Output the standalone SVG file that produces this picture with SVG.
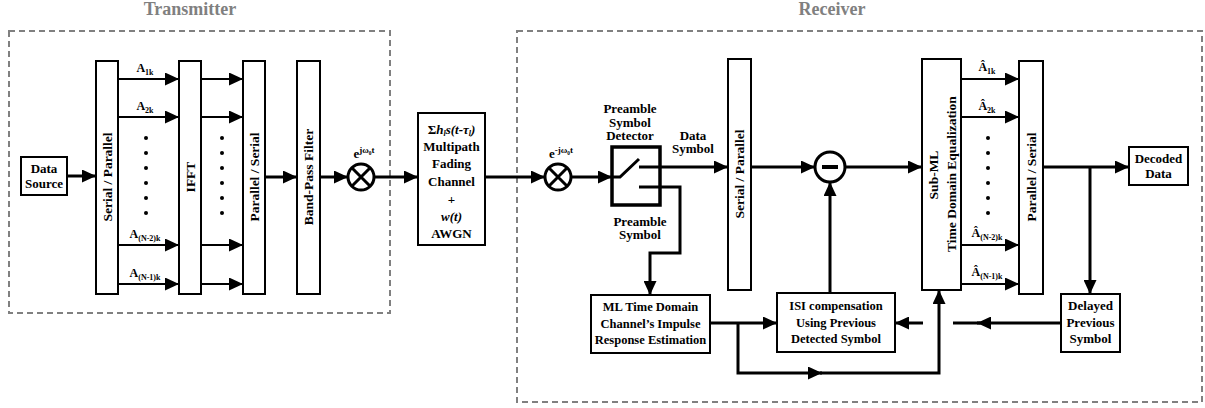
<svg xmlns="http://www.w3.org/2000/svg" width="1205" height="408" viewBox="0 0 1205 408">
<defs>
<style>
text{font-family:"Liberation Serif","Times New Roman",serif;font-weight:bold;fill:#000}
.t13{font-size:13px;text-anchor:middle}
.t12{font-size:12.5px;text-anchor:middle}
.rot{font-size:13.5px;text-anchor:middle;dominant-baseline:central}
.title{font-size:18px;fill:#808080;text-anchor:middle}
.lbl{font-size:12px;text-anchor:middle}
.sub{font-size:8px}
.sup{font-size:9px}
.box{fill:#fff;stroke:#000;stroke-width:2}
.dash{fill:none;stroke:#808080;stroke-width:2;stroke-dasharray:6 4}
.thick{fill:none;stroke:#000;stroke-width:3}
.thin{fill:none;stroke:#000;stroke-width:1.8}
.dot{fill:#000}
</style>
<marker id="ah" viewBox="0 0 14 13" refX="14" refY="6.5" markerWidth="14" markerHeight="13" markerUnits="userSpaceOnUse" orient="auto">
<path d="M0,0 L14,6.5 L0,13 z" fill="#000"/>
</marker>
</defs>
<rect width="1205" height="408" fill="#fff"/>

<!-- section frames -->
<g id="frames">
<rect class="dash" x="9" y="31" width="381" height="282"/>
<text class="title" x="190" y="15">Transmitter</text>
<rect class="dash" x="517" y="31" width="685" height="371"/>
<text class="title" x="832" y="15">Receiver</text>
</g>

<!-- connectors -->
<g id="connectors">
<path class="thick" d="M67,176 H96" marker-end="url(#ah)"/>
<path class="thin" d="M118,79 H179" marker-end="url(#ah)"/>
<path class="thin" d="M118,117 H179" marker-end="url(#ah)"/>
<path class="thin" d="M118,245 H179" marker-end="url(#ah)"/>
<path class="thin" d="M118,284 H179" marker-end="url(#ah)"/>
<path class="thin" d="M201,79 H243" marker-end="url(#ah)"/>
<path class="thin" d="M201,117 H243" marker-end="url(#ah)"/>
<path class="thin" d="M201,245 H243" marker-end="url(#ah)"/>
<path class="thin" d="M201,284 H243" marker-end="url(#ah)"/>
<path class="thick" d="M265,177 H297" marker-end="url(#ah)"/>
<path class="thick" d="M320,177 H348" marker-end="url(#ah)"/>
<path class="thick" d="M374,177 H418" marker-end="url(#ah)"/>
<path class="thick" d="M485,177 H545" marker-end="url(#ah)"/>
<path class="thick" d="M571,177 H612" marker-end="url(#ah)"/>
<path class="thick" d="M639,167 H728" marker-end="url(#ah)"/>
<path class="thick" d="M639,187 H680 V253 H650 V295" marker-end="url(#ah)"/>
<path class="thick" d="M751,167 H815" marker-end="url(#ah)"/>
<path class="thick" d="M830,293 V182" marker-end="url(#ah)"/>
<path class="thick" d="M845,167 H922" marker-end="url(#ah)"/>
<path class="thin" d="M961,79 H1019" marker-end="url(#ah)"/>
<path class="thin" d="M961,117 H1019" marker-end="url(#ah)"/>
<path class="thin" d="M961,245 H1019" marker-end="url(#ah)"/>
<path class="thin" d="M961,284 H1019" marker-end="url(#ah)"/>
<path class="thick" d="M1043,167 H1129" marker-end="url(#ah)"/>
<path class="thick" d="M1090,167 V294" marker-end="url(#ah)"/>
<path class="thick" d="M710,323 H777" marker-end="url(#ah)"/>
<path class="thick" d="M738,323 V373 H822" marker-end="url(#ah)"/>
<path class="thick" d="M820,373 H939 V290" marker-end="url(#ah)"/>
<path class="thick" d="M1061,323 H977" marker-end="url(#ah)"/>
<path class="thick" d="M980,323 H953"/>
<path class="thick" d="M923,323 H895" marker-end="url(#ah)"/>
</g>

<!-- transmitter -->
<g id="data-source">
<rect class="box" x="21" y="157" width="46" height="38"/>
<text class="t13" x="44" y="173">Data</text>
<text class="t13" x="44" y="188">Source</text>
</g>
<g id="tx-serial-parallel">
<rect class="box" x="96" y="61" width="22" height="233"/>
<text class="rot" transform="translate(107,177) rotate(-90)">Serial / Parallel</text>
</g>
<g id="tx-symbols">
<text class="lbl" x="145" y="72">A<tspan class="sub" dy="3">1k</tspan></text>
<text class="lbl" x="145" y="110">A<tspan class="sub" dy="3">2k</tspan></text>
<text class="lbl" x="145" y="238">A<tspan class="sub" dy="3">(N-2)k</tspan></text>
<text class="lbl" x="145" y="277">A<tspan class="sub" dy="3">(N-1)k</tspan></text>
<circle class="dot" cx="146" cy="138" r="2"/><circle class="dot" cx="146" cy="153" r="2"/><circle class="dot" cx="146" cy="168" r="2"/><circle class="dot" cx="146" cy="183" r="2"/><circle class="dot" cx="146" cy="198" r="2"/><circle class="dot" cx="146" cy="213" r="2"/>
<circle class="dot" cx="222" cy="138" r="2"/><circle class="dot" cx="222" cy="153" r="2"/><circle class="dot" cx="222" cy="168" r="2"/><circle class="dot" cx="222" cy="183" r="2"/><circle class="dot" cx="222" cy="198" r="2"/><circle class="dot" cx="222" cy="213" r="2"/>
</g>
<g id="ifft">
<rect class="box" x="179" y="61" width="22" height="233"/>
<text class="rot" transform="translate(190,177) rotate(-90)">IFFT</text>
</g>
<g id="tx-parallel-serial">
<rect class="box" x="243" y="61" width="22" height="233"/>
<text class="rot" transform="translate(254,177) rotate(-90)">Parallel / Serial</text>
</g>
<g id="band-pass-filter">
<rect class="box" x="297" y="61" width="23" height="233"/>
<text class="rot" transform="translate(308.5,177) rotate(-90)">Band-Pass Filter</text>
</g>
<g id="tx-mixer">
<circle cx="361" cy="177" r="13" fill="#fff" stroke="#000" stroke-width="3"/>
<path class="thick" d="M351.8,167.8 L370.2,186.2 M370.2,167.8 L351.8,186.2"/>
<text class="t13" x="364" y="158">e<tspan class="sup" dy="-5">jω₀t</tspan></text>
</g>

<!-- channel -->
<g id="channel">
<rect class="box" x="418" y="113" width="67" height="132"/>
<text class="t13" x="451.5" y="134">Σ<tspan font-style="italic">h</tspan><tspan class="sub" font-style="italic" dy="2">l</tspan><tspan font-style="italic" dy="-2">s(t-τ</tspan><tspan class="sub" font-style="italic" dy="2">l</tspan><tspan font-style="italic" dy="-2">)</tspan></text>
<text class="t13" x="451.5" y="151">Multipath</text>
<text class="t13" x="451.5" y="168">Fading</text>
<text class="t13" x="451.5" y="186">Channel</text>
<text class="t13" x="451.5" y="204">+</text>
<text class="t13" x="451.5" y="221" font-style="italic">w(t)</text>
<text class="t13" x="451.5" y="238">AWGN</text>
</g>

<!-- receiver -->
<g id="rx-mixer">
<circle cx="558" cy="177" r="13" fill="#fff" stroke="#000" stroke-width="3"/>
<path class="thick" d="M548.8,167.8 L567.2,186.2 M567.2,167.8 L548.8,186.2"/>
<text class="t13" x="561" y="158">e<tspan class="sup" dy="-5">-jω₀t</tspan></text>
</g>
<g id="preamble-detector">
<text class="t13" x="630" y="113">Preamble</text>
<text class="t13" x="630" y="126.5">Symbol</text>
<text class="t13" x="630" y="140">Detector</text>
<rect x="612" y="147" width="48" height="58" fill="none" stroke="#000" stroke-width="3.5"/>
<path class="thick" d="M612,177 H620 L639,159"/>
<text class="t13" x="693" y="140">Data</text>
<text class="t13" x="693" y="153">Symbol</text>
<text class="t13" x="640" y="226">Preamble</text>
<text class="t13" x="640" y="239">Symbol</text>
</g>
<g id="ml-estimation">
<rect class="box" x="591" y="295" width="119" height="58"/>
<text class="t12" x="650.5" y="311">ML Time Domain</text>
<text class="t12" x="650.5" y="327.5">Channel’s Impulse</text>
<text class="t12" x="650.5" y="344">Response Estimation</text>
</g>
<g id="rx-serial-parallel">
<rect class="box" x="728" y="59" width="23" height="231"/>
<text class="rot" transform="translate(739.5,174) rotate(-90)">Serial / Parallel</text>
</g>
<g id="subtractor">
<circle cx="830" cy="167" r="15" fill="#fff" stroke="#000" stroke-width="3"/>
<path d="M822,167 H838" stroke="#000" stroke-width="4"/>
</g>
<g id="isi-compensation">
<rect class="box" x="777" y="293" width="118" height="59"/>
<text class="t12" x="836" y="310">ISI compensation</text>
<text class="t12" x="836" y="327">Using Previous</text>
<text class="t12" x="836" y="343">Detected Symbol</text>
</g>
<g id="sub-ml-equalization">
<rect class="box" x="922" y="59" width="39" height="231"/>
<text class="rot" transform="translate(933,175) rotate(-90)">Sub-ML</text>
<text class="rot" transform="translate(951,174) rotate(-90)">Time Domain Equalization</text>
</g>
<g id="rx-symbols">
<text class="lbl" x="987" y="71">Â<tspan class="sub" dy="3">1k</tspan></text>
<text class="lbl" x="987" y="110">Â<tspan class="sub" dy="3">2k</tspan></text>
<text class="lbl" x="987" y="237">Â<tspan class="sub" dy="3">(N-2)k</tspan></text>
<text class="lbl" x="987" y="276">Â<tspan class="sub" dy="3">(N-1)k</tspan></text>
<circle class="dot" cx="988" cy="138" r="2"/><circle class="dot" cx="988" cy="153" r="2"/><circle class="dot" cx="988" cy="168" r="2"/><circle class="dot" cx="988" cy="183" r="2"/><circle class="dot" cx="988" cy="198" r="2"/><circle class="dot" cx="988" cy="213" r="2"/>
</g>
<g id="rx-parallel-serial">
<rect class="box" x="1019" y="61" width="24" height="233"/>
<text class="rot" transform="translate(1031,177) rotate(-90)">Parallel / Serial</text>
</g>
<g id="decoded-data">
<rect class="box" x="1129" y="147" width="59" height="38"/>
<text class="t13" x="1158.5" y="163">Decoded</text>
<text class="t13" x="1158.5" y="178">Data</text>
</g>
<g id="delayed-symbol">
<rect class="box" x="1061" y="294" width="59" height="58"/>
<text class="t13" x="1090.5" y="310">Delayed</text>
<text class="t13" x="1090.5" y="327">Previous</text>
<text class="t13" x="1090.5" y="343">Symbol</text>
</g>
</svg>
